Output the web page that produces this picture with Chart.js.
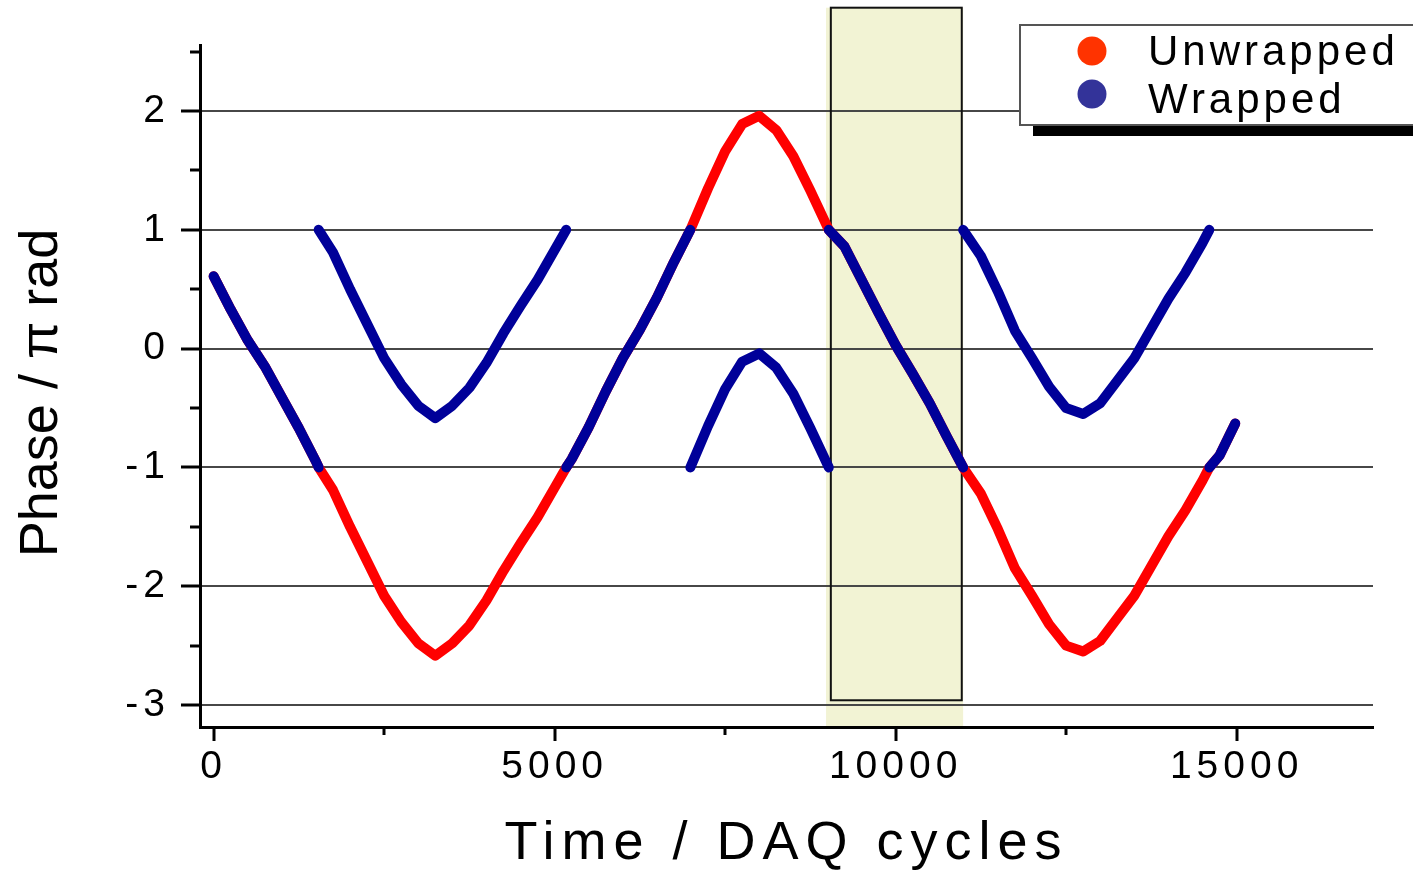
<!DOCTYPE html>
<html>
<head>
<meta charset="utf-8">
<script src="https://cdn.jsdelivr.net/npm/chart.js@4/dist/chart.umd.min.js"></script>
<style>
  html, body { margin: 0; padding: 0; background: #fff; }
  #wrap { width: 1413px; height: 872px; }
</style>
</head>
<body>
<div id="wrap"><canvas id="grafico" width="1413" height="872"></canvas></div>
<script>
// Dados. Nos pontos de salto da fase o valor aparece 3x: antes, quebra, depois
const cycles = [
  0, 250, 500, 750, 1000, 1250, 1500, 1540, 1540, 1540,
  1750, 2000, 2250, 2500, 2750, 3000, 3250, 3500, 3750, 4000, 4250, 4500, 4750, 5000, 5170, 5170, 5170,
  5250, 5500, 5750, 6000, 6250, 6500, 6750, 6990, 6990, 6990,
  7250, 7500, 7750, 8000, 8250, 8500, 8750, 9020, 9020, 9020,
  9250, 9500, 9750, 10000, 10250, 10500, 10750, 10990, 10990, 10990,
  11250, 11500, 11750, 12000, 12250, 12500, 12750, 13000, 13250, 13500, 13750, 14000, 14250, 14500, 14600, 14600, 14600,
  14750, 14980
];
const unwrapped = [
  0.61, 0.33, 0.07, -0.15, -0.41, -0.67, -0.95, -1, -1, -1,
  -1.19, -1.5, -1.79, -2.08, -2.3, -2.48, -2.585, -2.48, -2.33, -2.12, -1.87, -1.64, -1.42, -1.17, -1, -1, -1,
  -0.93, -0.66, -0.36, -0.08, 0.16, 0.43, 0.73, 1, 1, 1,
  1.35, 1.66, 1.89, 1.96, 1.84, 1.62, 1.33, 1, 1, 1,
  0.86, 0.58, 0.3, 0.03, -0.21, -0.46, -0.74, -1, -1, -1,
  -1.22, -1.52, -1.85, -2.08, -2.32, -2.5, -2.55, -2.46, -2.27, -2.08, -1.83, -1.58, -1.36, -1.11, -1, -1, -1,
  -0.9, -0.63
];
const wrapped = [
  0.61, 0.33, 0.07, -0.15, -0.41, -0.67, -0.95, -1, null, 1,
  0.81, 0.5, 0.21, -0.08, -0.3, -0.48, -0.585, -0.48, -0.33, -0.12, 0.13, 0.36, 0.58, 0.83, 1, null, -1,
  -0.93, -0.66, -0.36, -0.08, 0.16, 0.43, 0.73, 1, null, -1,
  -0.65, -0.34, -0.11, -0.04, -0.16, -0.38, -0.67, -1, null, 1,
  0.86, 0.58, 0.3, 0.03, -0.21, -0.46, -0.74, -1, null, 1,
  0.78, 0.48, 0.15, -0.08, -0.32, -0.5, -0.55, -0.46, -0.27, -0.08, 0.17, 0.42, 0.64, 0.89, 1, null, -1,
  -0.9, -0.63
];
const xTicks = [0, 2500, 5000, 7500, 10000, 12500, 15000];
const yTicks = [-3, -2.5, -2, -1.5, -1, -0.5, 0, 0.5, 1, 1.5, 2, 2.5];
// Faixa destacada (em unidades do gráfico)
const faixa = { de: 8980, ate: 10990, boxDe: 9050, boxAte: 10970, topo: 2.87, base: -2.96 };

const FONTE = "'Liberation Sans', Arial, sans-serif";

function pontos(ys) {
  return cycles.map((c, i) => ({ x: c, y: ys[i] }));
}

// Plugin: faixa, marcas dos eixos, títulos e legenda
const extras = {
  id: 'extras',
  beforeDraw(chart) {
    const { ctx, chartArea, scales: { x, y } } = chart;
    ctx.save();
    const l = x.getPixelForValue(faixa.de), r = x.getPixelForValue(faixa.ate);
    const t = y.getPixelForValue(faixa.topo);
    ctx.fillStyle = '#f2f3d4';
    ctx.fillRect(l, t, r - l, chartArea.bottom - t);
    ctx.restore();
    ctx.letterSpacing = '5px';
  },
  beforeDatasetsDraw(chart) {
    const { ctx, scales: { x, y } } = chart;
    const l = x.getPixelForValue(faixa.boxDe), r = x.getPixelForValue(faixa.boxAte);
    const t = y.getPixelForValue(faixa.topo), b = y.getPixelForValue(faixa.base);
    ctx.save();
    ctx.strokeStyle = '#111';
    ctx.lineWidth = 2;
    ctx.strokeRect(l, t, r - l, b - t);
    ctx.restore();
  },
  afterDraw(chart) {
    const { ctx, chartArea, scales: { x, y } } = chart;
    ctx.save();
    ctx.letterSpacing = '0px';
    ctx.strokeStyle = '#000';
    ctx.lineWidth = 3;
    // marcas do eixo x
    xTicks.forEach((v) => {
      const px = Math.round(x.getPixelForValue(v));
      const len = v % 5000 === 0 ? 14 : 8;
      ctx.beginPath();
      ctx.moveTo(px, chartArea.bottom);
      ctx.lineTo(px, chartArea.bottom + len);
      ctx.stroke();
    });
    // marcas do eixo y
    yTicks.forEach((v) => {
      const py = Math.round(y.getPixelForValue(v));
      const len = Number.isInteger(v) ? 19 : 10;
      ctx.beginPath();
      ctx.moveTo(chartArea.left, py);
      ctx.lineTo(chartArea.left - len, py);
      ctx.stroke();
    });

    // títulos
    ctx.fillStyle = '#000';
    ctx.font = '54px ' + FONTE;
    ctx.letterSpacing = '7px';
    ctx.textAlign = 'center';
    ctx.textBaseline = 'alphabetic';
    ctx.fillText('Time / DAQ cycles', (chartArea.left + chartArea.right) / 2, 859);

    ctx.save();
    ctx.letterSpacing = '0px';
    ctx.translate(57, (chartArea.top + chartArea.bottom) / 2 + 7);
    ctx.rotate(-Math.PI / 2);
    ctx.fillText('Phase / \u03c0 rad', 0, 0);
    ctx.restore();

    // legenda com sombra
    const lx = 1020, ly = 25, lw = 430, lh = 100;
    ctx.fillStyle = '#000';
    ctx.fillRect(lx + 13, ly + lh, lw, 11);
    ctx.fillStyle = '#fff';
    ctx.fillRect(lx, ly, lw, lh);
    ctx.strokeStyle = '#555';
    ctx.lineWidth = 2;
    ctx.strokeRect(lx, ly, lw, lh);

    const itens = [chart.data.datasets[1], chart.data.datasets[0]];
    ctx.font = '42px ' + FONTE;
    ctx.letterSpacing = '4px';
    ctx.textAlign = 'left';
    itens.forEach((ds, i) => {
      const cy = ly + 26 + i * 43;
      ctx.fillStyle = ds.corLegenda;
      ctx.beginPath();
      ctx.arc(lx + 72, cy, 14.5, 0, Math.PI * 2);
      ctx.fill();
      ctx.fillStyle = '#000';
      ctx.fillText(ds.label, lx + 128, ly + 40 + i * 48);
    });
    ctx.restore();
  }
};

const ctxGrafico = document.getElementById('grafico').getContext('2d');
const grafico = new Chart(ctxGrafico, {
  type: 'line',
  data: {
    datasets: [
      {
        label: 'Wrapped',
        data: pontos(wrapped),
        borderColor: '#000099',
        corLegenda: '#333399',
        borderWidth: 10,
        borderCapStyle: 'round',
        borderJoinStyle: 'round',
        pointRadius: 0,
        tension: 0,
        spanGaps: false
      },
      {
        label: 'Unwrapped',
        data: pontos(unwrapped),
        borderColor: '#ff0000',
        corLegenda: '#ff3300',
        borderWidth: 10,
        borderCapStyle: 'round',
        borderJoinStyle: 'round',
        pointRadius: 0,
        tension: 0,
        spanGaps: false
      }
    ]
  },
  options: {
    responsive: false,
    animation: false,
    layout: { padding: { top: 45, right: 40, left: 0, bottom: 0 } },
    plugins: { legend: { display: false }, tooltip: { enabled: false } },
    scales: {
      x: {
        type: 'linear',
        min: -200,
        max: 17000,
        afterBuildTicks: (scale) => { scale.ticks = xTicks.map((v) => ({ value: v })); },
        afterFit: (scale) => {
          scale.height = 145;
          scale.paddingLeft = 0;
          scale.paddingRight = 0;
        },
        grid: { drawOnChartArea: false, drawTicks: false },
        border: { display: true, color: '#000', width: 3 },
        ticks: {
          autoSkip: false,
          maxRotation: 0,
          padding: 17,
          color: '#000',
          font: { family: FONTE, size: 39 },
          callback: (v) => (v % 5000 === 0 ? String(v) : '')
        }
      },
      y: {
        min: -3.185,
        max: 2.556,
        afterBuildTicks: (scale) => { scale.ticks = yTicks.map((v) => ({ value: v })); },
        afterFit: (scale) => {
          scale.width = 200;
          scale.paddingTop = 0;
          scale.paddingBottom = 0;
        },
        grid: {
          drawTicks: false,
          lineWidth: 2,
          color: (c) => (Number.isInteger(c.tick.value) ? '#474747' : 'rgba(0,0,0,0)')
        },
        border: { display: true, color: '#000', width: 3 },
        ticks: {
          autoSkip: false,
          padding: 30,
          color: '#000',
          font: { family: FONTE, size: 39 },
          callback: (v) => (Number.isInteger(v) ? String(v) : '')
        }
      }
    }
  },
  plugins: [extras]
});
</script>
</body>
</html>
